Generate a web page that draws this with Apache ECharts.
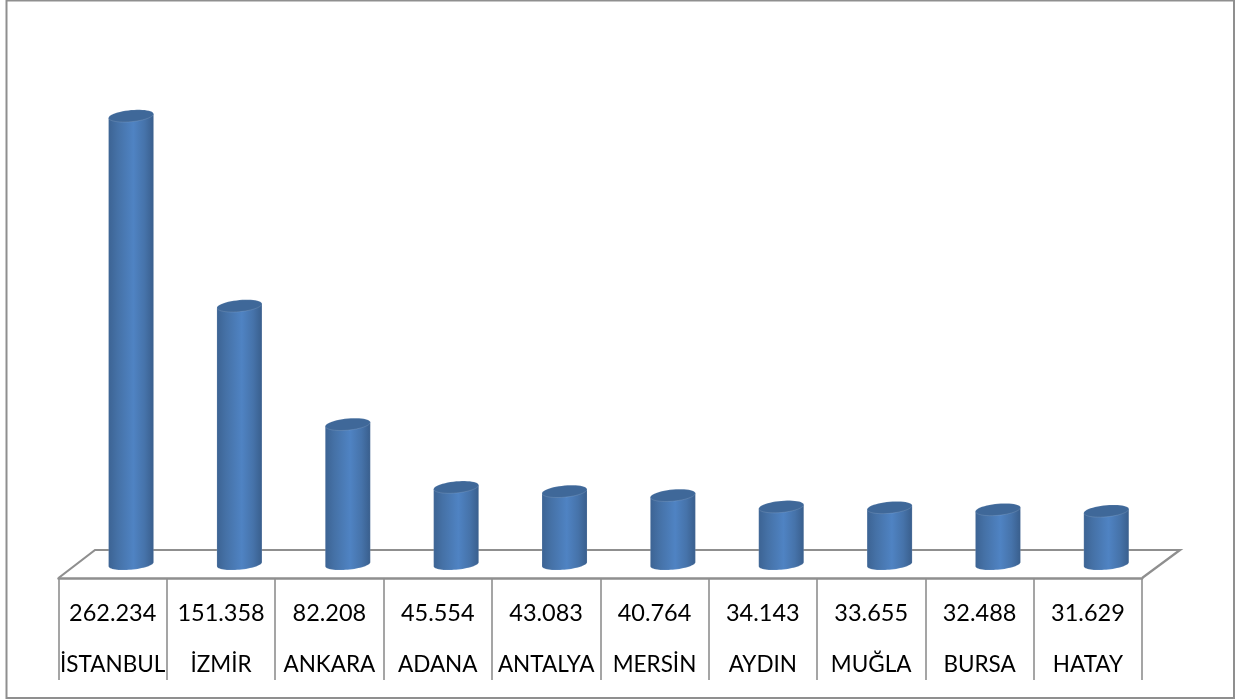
<!DOCTYPE html>
<html><head><meta charset="utf-8">
<style>html,body{margin:0;padding:0;background:#fff}#c{width:1239px;height:700px}</style>
<script src="https://cdn.jsdelivr.net/npm/echarts@6/dist/echarts.min.js"></script>
</head><body><div id="c"></div>
<script>
const categories = ['İSTANBUL','İZMİR','ANKARA','ADANA','ANTALYA','MERSİN','AYDIN','MUĞLA','BURSA','HATAY'];
const values = [262.234,151.358,82.208,45.554,43.083,40.764,34.143,33.655,32.488,31.629];

const GREY = '#8f8f8f';
const chart = echarts.init(document.getElementById('c'), null, {renderer:'canvas'});

function ellipsePts(cx, cy, a, b, tilt, from, to, n) {
  const pts = [];
  for (let i = 0; i <= n; i++) {
    const t = from + (to - from) * i / n;
    pts.push([cx + a * Math.cos(t), cy + b * Math.sin(t) - tilt * Math.cos(t)]);
  }
  return pts;
}

function renderCylinder(params, api) {
  const top = api.coord([api.value(0), api.value(1)]);
  const base = api.coord([api.value(0), 0]);
  const a = 22.5, b = 5.8, tilt = 2;
  const cx = top[0];
  const body = ellipsePts(cx, base[1] - 1, a, b - 0.3, tilt, Math.PI, 0, 32)
    .concat([[cx + a, top[1] - tilt], [cx - a, top[1] + tilt]]);
  const grad = new echarts.graphic.LinearGradient(0, 0, 1, 0, [
    {offset: 0, color: '#3c6393'},
    {offset: 0.2, color: '#4571a6'},
    {offset: 0.55, color: '#4f83c3'},
    {offset: 0.8, color: '#4673aa'},
    {offset: 1, color: '#395e8c'}
  ]);
  return {
    type: 'group',
    children: [
      {type:'polygon', shape:{points: body}, style:{fill: grad, stroke:'rgba(255,255,255,0.25)', lineWidth:0.5}},
      {type:'polygon', shape:{points: ellipsePts(cx, top[1], a, b, tilt, 0, Math.PI*2, 48)},
       style:{fill:'#3f6899', stroke:'rgba(255,255,255,0.25)', lineWidth:0.5}}
    ]
  };
}

chart.setOption({
  animation: false,
  backgroundColor: '#fff',
  textStyle: {fontFamily: 'Lato'},
  grid: [
    {left: 76.9, width: 1083.6, top: 51.2, height: 514},
    {left: 58.5, width: 1083.6, top: 578, height: 102}
  ],
  xAxis: [
    {type:'category', gridIndex:0, data:categories, show:false},
    {type:'category', gridIndex:1, data:categories, position:'top',
     axisLine:{show:true, onZero:false, lineStyle:{color:GREY, width:2.5}},
     axisTick:{show:false},
     splitLine:{show:true, interval:0, lineStyle:{color:GREY, width:1.6}},
     axisLabel:{
       inside:true, interval:0, margin:10, color:'#000',
       formatter:(v, i) => '{v|' + values[i].toFixed(3) + '}\n{n|' + v + '}',
       rich:{
         v:{fontFamily:'Lato', fontSize:23.5, lineHeight:50, color:'#000'},
         n:{fontFamily:'Lato', fontSize:22.5, lineHeight:54, color:'#000'}
       }
     }}
  ],
  yAxis: [
    {type:'value', gridIndex:0, min:0, max:300, show:false},
    {type:'value', gridIndex:1, show:false}
  ],
  graphic: [
    {type:'rect', z:0, shape:{x:6.5, y:0.5, width:1227.5, height:697.5},
     style:{fill:'none', stroke:GREY, lineWidth:2}},
    {type:'polyline', z:0, shape:{points:[[58.5,578],[95,550],[1180,550],[1142.1,578]]},
     style:{fill:'none', stroke:GREY, lineWidth:2.2}}
  ],
  series: [{
    type:'custom', xAxisIndex:0, yAxisIndex:0, z:5, clip:false,
    renderItem: renderCylinder,
    encode:{x:0, y:1},
    data: values.map((v, i) => [i, v])
  }]
});
</script></body></html>
